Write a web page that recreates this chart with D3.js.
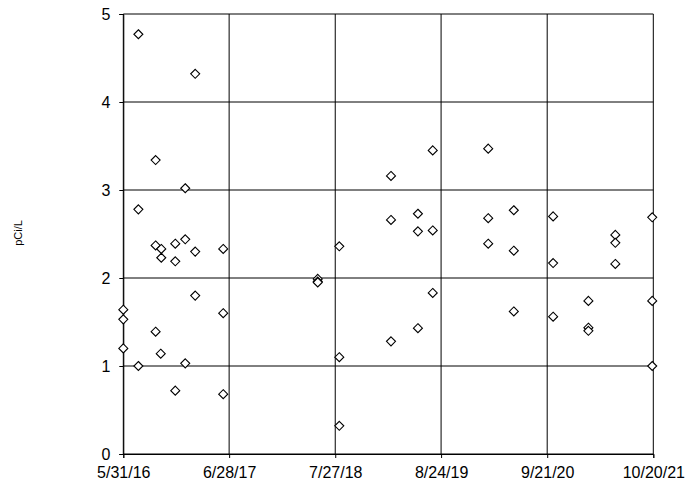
<!DOCTYPE html>
<html>
<head>
<meta charset="utf-8">
<script src="https://cdn.jsdelivr.net/npm/d3@7"></script>
<style>
  body { margin: 0; background: #fff; overflow: hidden; }
  svg { display: block; }
  text { font-family: "Liberation Sans", Arial, sans-serif; }
</style>
</head>
<body>
<div id="chart"></div>
<script>
// sample dates and radon readings (pCi/L)
const sampleDates = [
    "2016-05-31", "2016-05-31", "2016-05-31", "2016-07-26", "2016-07-26", "2016-07-26",
    "2016-09-28", "2016-09-28", "2016-09-28", "2016-10-19", "2016-10-19", "2016-10-17",
    "2016-12-10", "2016-12-10", "2016-12-10", "2017-01-16", "2017-01-16", "2017-01-16",
    "2017-02-22", "2017-02-22", "2017-02-22", "2017-06-06", "2017-06-06", "2017-06-06",
    "2018-05-23", "2018-05-23", "2018-05-23", "2018-08-11", "2018-08-11", "2018-08-11",
    "2019-02-19", "2019-02-19", "2019-02-19", "2019-05-30", "2019-05-30", "2019-05-30",
    "2019-07-24", "2019-07-24", "2019-07-24", "2020-02-15", "2020-02-15", "2020-02-15",
    "2020-05-20", "2020-05-20", "2020-05-20", "2020-10-13", "2020-10-13", "2020-10-13",
    "2021-02-21", "2021-02-21", "2021-02-21", "2021-06-01", "2021-06-01", "2021-06-01",
    "2021-10-16", "2021-10-16", "2021-10-16"
];
const sampleValues = [
    1.64, 1.53, 1.20, 4.77, 2.78, 1.00,
    3.34, 2.37, 1.39, 2.33, 2.23, 1.14,
    2.39, 2.19, 0.72, 3.02, 2.44, 1.03,
    4.32, 2.30, 1.80, 2.33, 1.60, 0.68,
    1.99, 1.96, 1.95, 2.36, 1.10, 0.32,
    3.16, 2.66, 1.28, 2.73, 2.53, 1.43,
    3.45, 2.54, 1.83, 3.47, 2.68, 2.39,
    2.77, 2.31, 1.62, 2.70, 2.17, 1.56,
    1.74, 1.435, 1.40, 2.49, 2.40, 2.16,
    2.69, 1.74, 1.00
];
const xTickLabels = ["5/31/16", "6/28/17", "7/27/18", "8/24/19", "9/21/20", "10/20/21"];
const yTicks = [0, 1, 2, 3, 4, 5];

const parseDate = d3.timeParse("%Y-%m-%d");
const parseTick = d3.timeParse("%m/%d/%y");

const data = sampleDates.map((d, i) => ({ date: parseDate(d), value: sampleValues[i] }));
const xTicks = xTickLabels.map(t => parseTick(t));

const width = 687;
const height = 487;
const margin = { top: 14, left: 123.3 };
const innerWidth = 530;
const innerHeight = 440;

const svg = d3.select("#chart")
    .append("svg")
    .attr("width", width)
    .attr("height", height);

const g = svg.append("g")
    .attr("transform", `translate(${margin.left},${margin.top})`);

const x = d3.scaleTime()
    .domain([xTicks[0], xTicks[xTicks.length - 1]])
    .range([0, innerWidth]);

const y = d3.scaleLinear()
    .domain([0, 5])
    .range([innerHeight, 0]);

// grid
g.append("g")
    .selectAll("line")
    .data(xTicks)
    .join("line")
    .attr("x1", d => x(d))
    .attr("x2", d => x(d))
    .attr("y1", 0)
    .attr("y2", innerHeight)
    .attr("stroke", "#000")
    .attr("stroke-width", 1);

g.append("g")
    .selectAll("line")
    .data(yTicks)
    .join("line")
    .attr("x1", 0)
    .attr("x2", innerWidth)
    .attr("y1", d => y(d))
    .attr("y2", d => y(d))
    .attr("stroke", "#000")
    .attr("stroke-width", 1);

// axes
const xAxis = g.append("g")
    .attr("transform", `translate(0,${innerHeight})`)
    .call(d3.axisBottom(x).tickValues(xTicks).tickSize(4).tickPadding(9)
        .tickFormat((d, i) => xTickLabels[i]));

const yAxis = g.append("g")
    .call(d3.axisLeft(y).tickValues(yTicks).tickSize(4).tickPadding(9)
        .tickFormat(d3.format("d")));

[xAxis, yAxis].forEach(a => {
    a.attr("font-size", null).attr("font-family", null);
    a.select(".domain").attr("stroke", "#000");
    a.selectAll(".tick line").attr("stroke", "#000");
    a.selectAll("text")
        .style("font-size", "16px")
        .attr("fill", "#000");
});
yAxis.selectAll("text").attr("dy", "0.35em");

// y label
svg.append("text")
    .attr("transform", `translate(22, 233) rotate(-90)`)
    .attr("text-anchor", "middle")
    .style("font-size", "11px")
    .attr("fill", "#000")
    .text("pCi/L");

// points (diamonds)
g.selectAll("path.pt")
    .data(data)
    .join("path")
    .attr("class", "pt")
    .attr("transform", d => `translate(${x(d.date)},${y(d.value)})`)
    .attr("d", "M0,-4.5L4.5,0L0,4.5L-4.5,0Z")
    .attr("fill", "#fff")
    .attr("stroke", "#000")
    .attr("stroke-width", 1.1);
</script>
</body>
</html>
